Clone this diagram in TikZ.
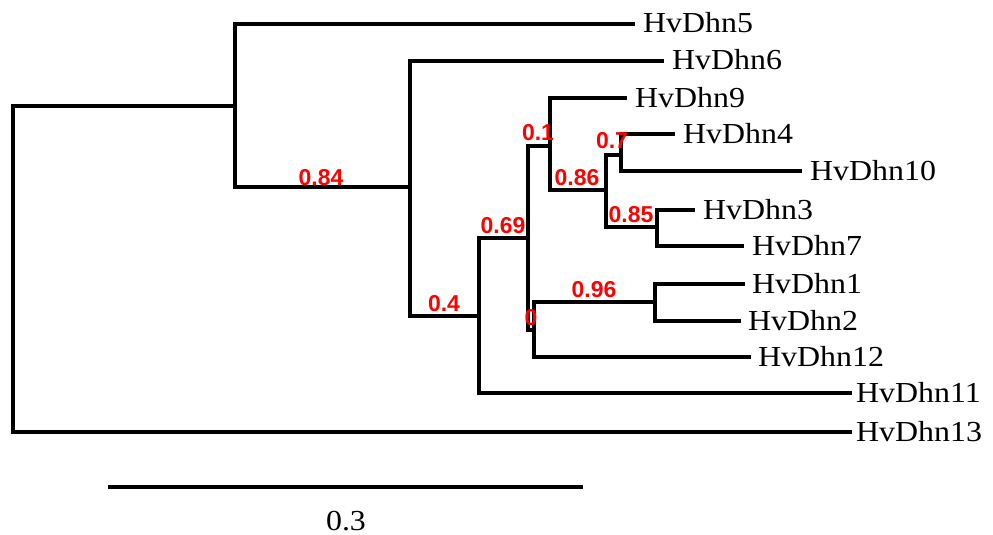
\documentclass[tikz,border=0pt]{standalone}
\usepackage{fontspec}
\setmainfont{Liberation Serif}[FakeStretch=1.1]
\newfontfamily\labfont{Liberation Sans}
\begin{document}
\begin{tikzpicture}[x=1pt,y=-1pt,
  branch/.style={line width=4.6pt,line cap=rect,line join=miter},
  leaf/.style={anchor=base west,inner sep=0pt,font=\fontsize{29}{30}\selectfont},
  support/.style={anchor=base,inner sep=0pt,text=red,font=\labfont\bfseries\fontsize{23}{24}\selectfont}]
\useasboundingbox (0,0) rectangle (993,535);
% internal nodes
\coordinate (R) at (13,269);
\coordinate (A) at (235,106);
\coordinate (B) at (410,187);
\coordinate (C) at (479,316);
\coordinate (D) at (528,238);
\coordinate (F) at (550,146);
\coordinate (H) at (606,190);
\coordinate (I) at (621,155);
\coordinate (J) at (657,227);
\coordinate (E) at (534,330);
\coordinate (G) at (655,302);
% leaf tips
\coordinate (t5) at (633,24);
\coordinate (t6) at (662,61);
\coordinate (t9) at (625,98);
\coordinate (t4) at (673,134);
\coordinate (t10) at (800,171);
\coordinate (t3) at (693,210);
\coordinate (t7) at (742,246);
\coordinate (t1) at (743,284);
\coordinate (t2) at (739,321);
\coordinate (t12) at (749,357);
\coordinate (t11) at (850,393);
\coordinate (t13) at (850,432);
% branches
\draw[branch] (R) |- (A);
\draw[branch] (R) |- (t13);
\draw[branch] (A) |- (t5);
\draw[branch] (A) |- (B);
\draw[branch] (B) |- (t6);
\draw[branch] (B) |- (C);
\draw[branch] (C) |- (D);
\draw[branch] (C) |- (t11);
\draw[branch] (D) |- (F);
\draw[branch] (D) |- (E);
\draw[branch] (F) |- (t9);
\draw[branch] (F) |- (H);
\draw[branch] (H) |- (I);
\draw[branch] (H) |- (J);
\draw[branch] (I) |- (t4);
\draw[branch] (I) |- (t10);
\draw[branch] (J) |- (t3);
\draw[branch] (J) |- (t7);
\draw[branch] (E) |- (G);
\draw[branch] (E) |- (t12);
\draw[branch] (G) |- (t1);
\draw[branch] (G) |- (t2);
% leaf labels
\node[leaf] (n5) at ([xshift=10pt,yshift=-9pt]t5) {HvDhn5};
\node[leaf] (n6) at ([xshift=10pt,yshift=-9pt]t6) {HvDhn6};
\node[leaf] (n9) at ([xshift=10pt,yshift=-9pt]t9) {HvDhn9};
\node[leaf] (n4) at ([xshift=10pt,yshift=-9pt]t4) {HvDhn4};
\node[leaf] (n10) at ([xshift=10pt,yshift=-9pt]t10) {HvDhn10};
\node[leaf] (n3) at ([xshift=10pt,yshift=-9pt]t3) {HvDhn3};
\node[leaf] (n7) at ([xshift=10pt,yshift=-9pt]t7) {HvDhn7};
\node[leaf] (n1) at ([xshift=9pt,yshift=-9pt]t1) {HvDhn1};
\node[leaf] (n2) at ([xshift=9pt,yshift=-9pt]t2) {HvDhn2};
\node[leaf] (n12) at ([xshift=9pt,yshift=-9pt]t12) {HvDhn12};
\node[leaf] (n11) at ([xshift=6pt,yshift=-9pt]t11) {HvDhn11};
\node[leaf] (n13) at ([xshift=6pt,yshift=-9pt]t13) {HvDhn13};
% support values
\node[support] (s84) at (321,185) {0.84};
\node[support] (s4) at (444,311) {0.4};
\node[support] (s69) at (503,233) {0.69};
\node[support] (s96) at (594,297) {0.96};
\node[support] (s0) at (531,325) {0};
\node[support] (s1) at (538,140) {0.1};
\node[support] (s86) at (577,185) {0.86};
\node[support] (s7) at (612,148) {0.7};
\node[support] (s85) at (631,222) {0.85};
% scale bar
\coordinate (sbL) at (108,487);
\coordinate (sbR) at (583,487);
\draw[line width=4.6pt] (sbL) -- (sbR);
\node[leaf,anchor=base] (sbt) at (346,530) {0.3};
\end{tikzpicture}
\end{document}
